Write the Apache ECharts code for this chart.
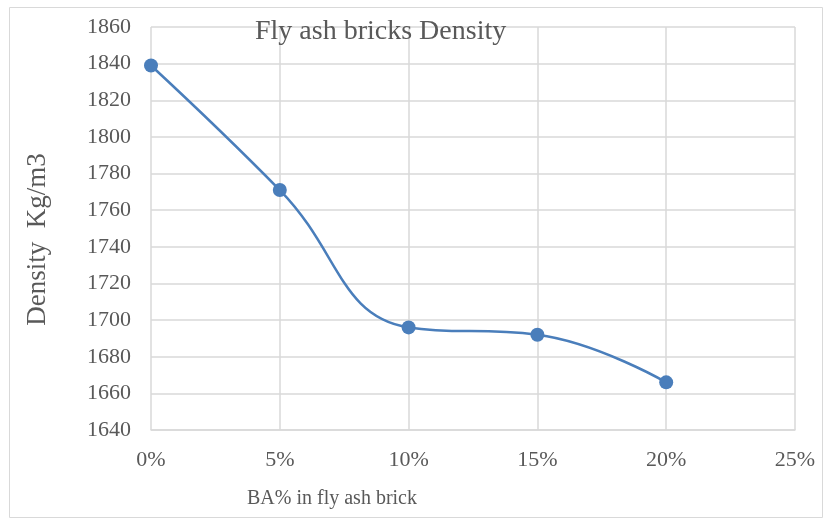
<!DOCTYPE html>
<html>
<head>
<meta charset="utf-8">
<script src="https://cdn.jsdelivr.net/npm/echarts@6/dist/echarts.min.js"></script>
<style>
    html, body { margin: 0; padding: 0; background: #fff; }
    #chart { width: 827px; height: 524px; }
</style>
</head>
<body>
<div id="chart"></div>
<script>
// BA % replacement and measured density
var baPercent = [0, 5, 10, 15, 20];
var density = [1839, 1771, 1696, 1692, 1666];
var xTicks = [0, 5, 10, 15, 20, 25];

var chart = echarts.init(document.getElementById("chart"));
var font = "Liberation Serif";

var option = {
    animation: false,
    title: {
        text: "Fly ash bricks Density",
        left: 250,
        top: 13,
        textStyle: { fontFamily: font, fontSize: 28, fontWeight: "normal", color: "#595959" }
    },
    graphic: [
        {
            type: "rect",
            shape: { x: 9.5, y: 7.5, width: 813, height: 510 },
            style: { fill: "none", stroke: "#d9d9d9", lineWidth: 1 },
            silent: true
        },
        {
            type: "text",
            left: 247,
            top: 489,
            style: { text: "BA% in fly ash brick", font: "20px " + font, fill: "#595959" }
        }
    ],
    grid: { left: 151, right: 32, top: 27, bottom: 94 },
    xAxis: {
        type: "value",
        min: 0,
        max: xTicks[xTicks.length - 1],
        interval: 5,
        axisLine: { show: true, lineStyle: { color: "#d9d9d9", width: 1.5 } },
        axisTick: { show: false },
        splitLine: { show: true, lineStyle: { color: "#d9d9d9", width: 1.5 } },
        axisLabel: {
            formatter: "{value}%",
            margin: 19,
            fontFamily: font,
            fontSize: 22,
            color: "#595959"
        }
    },
    yAxis: {
        type: "value",
        min: 1640,
        max: 1860,
        interval: 20,
        name: "Density  Kg/m3",
        nameLocation: "middle",
        nameGap: 100,
        nameRotate: 90,
        nameTextStyle: { fontFamily: font, fontSize: 27, color: "#595959", padding: [0, 0, 0, -22] },
        axisLine: { show: false },
        axisTick: { show: false },
        splitLine: { lineStyle: { color: "#d9d9d9", width: 1.5 } },
        axisLabel: {
            margin: 20,
            fontFamily: font,
            fontSize: 22,
            color: "#595959",
            formatter: function (v) { return String(v); }
        }
    },
    series: [
        {
            type: "line",
            data: baPercent.map(function (x, i) { return [x, density[i]]; }),
            smooth: 0.45,
            symbol: "circle",
            symbolSize: 14,
            lineStyle: { color: "#4a7ebb", width: 2.5 },
            itemStyle: { color: "#4a7ebb" }
        }
    ]
};

chart.setOption(option);
</script>
</body>
</html>
